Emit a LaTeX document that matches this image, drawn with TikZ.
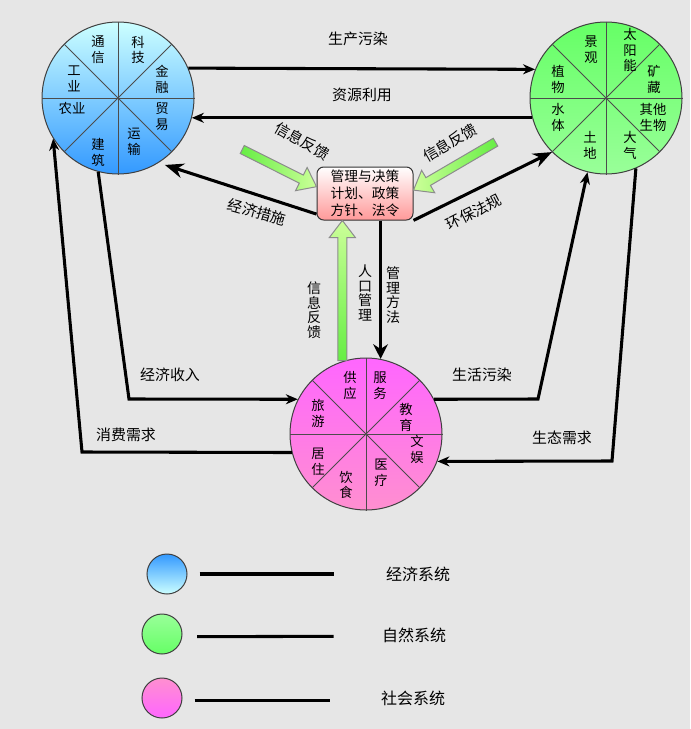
\documentclass[tikz,border=0pt]{standalone}
\usepackage{fontspec}
\setmainfont{Noto Sans CJK SC}
\usepackage{tikz}
\usetikzlibrary{arrows.meta}
\usetikzlibrary{calc}
\definecolor{bg}{RGB}{230,230,230}
\definecolor{ecotop}{RGB}{204,255,255}
\definecolor{ecobot}{RGB}{51,153,255}
\definecolor{nattop}{RGB}{102,255,102}
\definecolor{natbot}{RGB}{153,255,153}
\definecolor{soctop}{RGB}{255,102,255}
\definecolor{socbot}{RGB}{255,143,208}
\definecolor{boxbot}{RGB}{255,153,153}
\definecolor{fbdark}{RGB}{102,238,68}
\definecolor{fblight}{RGB}{204,255,153}
\tikzset{sys/.style = {circle, draw = black!75, line width = 0.75pt, inner sep = 0, minimum size = 114pt}}
\tikzset{cell/.style = {align = center, inner sep = 0, font = \fontsize{10}{11.8}\selectfont}}
\tikzset{flow/.style = {line width = 2.3pt, -{Stealth[length = 9pt, width = 7.5pt]}}}
\tikzset{bigflow/.style = {flow, -{Stealth[length = 14pt, width = 11pt]}}}
\tikzset{lbl/.style = {inner sep = 0, font = \fontsize{11.2}{13}\selectfont}}
\tikzset{vlbl/.style = {align = center, inner sep = 0, font = \fontsize{10.5}{10.9}\selectfont}}
\tikzset{key/.style = {circle, draw = black!75, line width = 0.75pt, inner sep = 0, minimum size = 30pt}}
\tikzset{keyline/.style = {line width = 2.3pt}}
% green feedback arrow: tip, angle, length, shading, tail name
\newcommand{\fbarrow}[5]{%
  \begin{scope}[shift = {(#1)}, rotate = #2]
    \shade [draw = black!45, line width = 0.75pt, #4]
      (-#3, -4.5) -- (-17, -4.5) -- (-17, -13) -- (0, 0) -- (-17, 13) -- (-17, 4.5) -- (-#3, 4.5) -- cycle;
    \coordinate (#5) at (-#3, 0);
  \end{scope}}

\begin{document}
\begin{tikzpicture}[x = 0.75pt, y = -0.75pt]
      \useasboundingbox (0, 0) rectangle (690, 729);
      \fill [bg] (0, 0) rectangle (690, 729);

      % the three systems
      \node [sys, top color = ecotop, bottom color = ecobot] (econ) at (118, 98) {};
      \node [sys, top color = nattop, bottom color = natbot] (nat) at (606, 98) {};
      \node [sys, top color = soctop, bottom color = socbot] (soc) at (366, 434) {};
      \foreach \a/\b in {0/180, 45/225, 90/270, 135/315} {
        \draw [black!70, line width = 0.75pt] (econ.\a) -- (econ.\b);
        \draw [black!70, line width = 0.75pt] (nat.\a) -- (nat.\b);
        \draw [black!70, line width = 0.75pt] (soc.\a) -- (soc.\b);
      }

      \foreach \x/\y/\t [count = \i] in {98/50/通\\信, 138/50/科\\技, 162/79.5/金\\融, 162/116.5/贸\\易,
          134/141.5/运\\输, 98/152.5/建\\筑, 72/108/农业, 74/78.5/工\\业}
        \node [cell] (eco\i) at (\x, \y) {\t};
      \foreach \x/\y/\t [count = \i] in {591/50/景\\观, 630/50/太\\阳\\能, 654/79.5/矿\\藏, 558/79.5/植\\物,
          558/117.5/水\\体, 653/117.5/其他\\生物, 590/145.5/土\\地, 630/145.5/大\\气}
        \node [cell] (nat\i) at (\x, \y) {\t};
      \foreach \x/\y/\t [count = \i] in {350/385.5/供\\应, 380/385.5/服\\务, 406/417.5/教\\育, 417/449.5/文\\娱,
          381/472.5/医\\疗, 346/485/饮\\食, 318/461.5/居\\住, 318/413.5/旅\\游}
        \node [cell] (soc\i) at (\x, \y) {\t};

      % management box
      \node [draw = black!80, line width = 0.75pt, rounded corners = 5pt, top color = white, bottom color = boxbot,
             minimum width = 72pt, minimum height = 39.75pt, inner sep = 2pt, align = center,
             font = \fontsize{10.3}{12.75}\selectfont] (box) at (365, 193.5) {管理与决策\\计划、政策\\方针、法令};

      % feedback arrows
      \fbarrow{box.172}{-26.6}{83}{left color = fbdark, right color = fblight}{fbL}
      \fbarrow{box.4}{210.3}{95}{left color = fblight, right color = fbdark}{fbR}
      \fbarrow{soc.108 |- box.south}{90}{140}{top color = fblight, bottom color = fbdark}{fbB}

      % flows
      \draw [flow] (econ.23) -- (nat.158);
      \draw [flow] (nat.195) -- (econ.-15);
      \draw [bigflow, shorten > = 5pt] (box.203) -- (econ.-58);
      \draw [bigflow] (box.-29) -- (nat.225);
      \draw [flow, -{Stealth[length = 11pt, width = 11pt]}] (box.south -| soc.79) -- (soc.79);

      \coordinate (incC) at (129, 399);
      \draw [flow] (econ.-105) -- (incC) -- (soc.153);
      \coordinate (useC) at (82, 452);
      \draw [flow] (soc.194) -- (useC) -- (econ.212);
      \coordinate (lifC) at (538, 399);
      \draw [flow] (soc.27) -- (lifC) -- (nat.256);
      \coordinate (ecoC) at (612, 461);
      \draw [flow] (nat.-67) -- (ecoC) -- (soc.-21);

      % labels
      \node [lbl] (lPro) at (358, 39) {生产污染};
      \node [lbl] (lRes) at (362, 95) {资源利用};
      \node [lbl, rotate = -30] (lFbL) at (302, 141) {信息反馈};
      \node [lbl, rotate = 30] (lFbR) at (450, 143) {信息反馈};
      \node [lbl, rotate = -16] (lMea) at (257, 212) {经济措施};
      \node [lbl, rotate = 27] (lLaw) at (474, 212) {环保法规};
      \node [vlbl] (lFbB) at (314, 310) {信\\息\\反\\馈};
      \node [vlbl] (lPop) at (365, 293) {人\\口\\管\\理};
      \node [vlbl] (lMet) at (393, 295) {管\\理\\方\\法};
      \node [lbl] (lInc) at (170, 375) {经济收入};
      \node [lbl] (lCon) at (126, 435) {消费需求};
      \node [lbl] (lLif) at (482, 375) {生活污染};
      \node [lbl] (lEco) at (562, 438) {生态需求};

      % legend
      \node [key, top color = ecobot, bottom color = ecotop] (kEco) at (167, 574) {};
      \node [key, top color = natbot, bottom color = nattop] (kNat) at (162, 634) {};
      \node [key, top color = socbot, bottom color = soctop] (kSoc) at (162, 698) {};
      \node [lbl, font = \fontsize{12}{14}\selectfont] (tEco) at (418, 574) {经济系统};
      \node [lbl, font = \fontsize{12}{14}\selectfont] (tNat) at (414, 635) {自然系统};
      \node [lbl, font = \fontsize{12}{14}\selectfont] (tSoc) at (413, 698) {社会系统};
      \draw [keyline] ([xshift = 9pt] kEco.east) -- ([xshift = -39pt] tEco.west);
      \draw [keyline] ([xshift = 11pt, yshift = -2pt] kNat.east) -- ([xshift = -36pt, yshift = -1pt] tNat.west);
      \draw [keyline] ([xshift = 9pt, yshift = -2pt] kSoc.east) -- ([xshift = -38pt, yshift = -2pt] tSoc.west);
    \end{tikzpicture}
\end{document}
